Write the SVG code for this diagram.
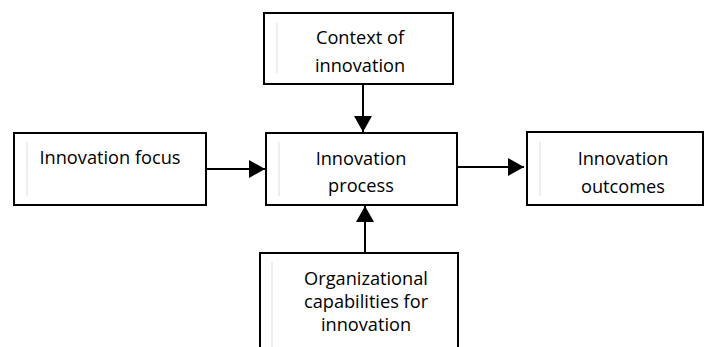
<svg xmlns="http://www.w3.org/2000/svg" width="708" height="347" viewBox="0 0 708 347">
<style>
.box{fill:#fff;stroke:#000;stroke-width:2}
.ghost{stroke:#eeeeee;stroke-width:2}
.t{font-family:"Open Sans","Liberation Sans",sans-serif;font-size:18.2px;fill:#000;text-anchor:middle}
.c{stroke:#000;stroke-width:2;fill:none}
</style>
<defs>
<marker id="ah" viewBox="0 0 16 18" refX="16" refY="9" markerWidth="16" markerHeight="18" markerUnits="userSpaceOnUse" orient="auto">
<path d="M0,0 L16,9 L0,18 Z" fill="#000"/>
</marker>
</defs>
<rect width="708" height="347" fill="#fff"/>
<g id="context">
<rect class="box" x="264" y="13" width="189" height="71"/>
<line class="ghost" x1="277" y1="23" x2="277" y2="73"/>
<text class="t" x="360" y="44">Context of</text>
<text class="t" x="360" y="72">innovation</text>
</g>
<g id="focus">
<rect class="box" x="14" y="133" width="192" height="72"/>
<line class="ghost" x1="27" y1="142" x2="27" y2="196"/>
<text class="t" x="110" y="164">Innovation focus</text>
</g>
<g id="process">
<rect class="box" x="266" y="133" width="191" height="72"/>
<line class="ghost" x1="279" y1="142" x2="279" y2="196"/>
<text class="t" x="361" y="165">Innovation</text>
<text class="t" x="361" y="192">process</text>
</g>
<g id="outcomes">
<rect class="box" x="527" y="132" width="176" height="73"/>
<line class="ghost" x1="540" y1="142" x2="540" y2="196"/>
<text class="t" x="623" y="165">Innovation</text>
<text class="t" x="623" y="193">outcomes</text>
</g>
<g id="capabilities">
<rect class="box" x="260" y="253" width="198" height="110"/>
<line class="ghost" x1="272" y1="262" x2="272" y2="347"/>
<text class="t" x="366" y="285">Organizational</text>
<text class="t" x="366" y="308">capabilities for</text>
<text class="t" x="366" y="331">innovation</text>
</g>
<g id="connectors">
<line class="c" x1="363" y1="84" x2="363" y2="132" marker-end="url(#ah)"/>
<line class="c" x1="206" y1="169" x2="265" y2="169" marker-end="url(#ah)"/>
<line class="c" x1="457" y1="167" x2="524" y2="167" marker-end="url(#ah)"/>
<line class="c" x1="365" y1="253" x2="365" y2="206" marker-end="url(#ah)"/>
</g>
</svg>
